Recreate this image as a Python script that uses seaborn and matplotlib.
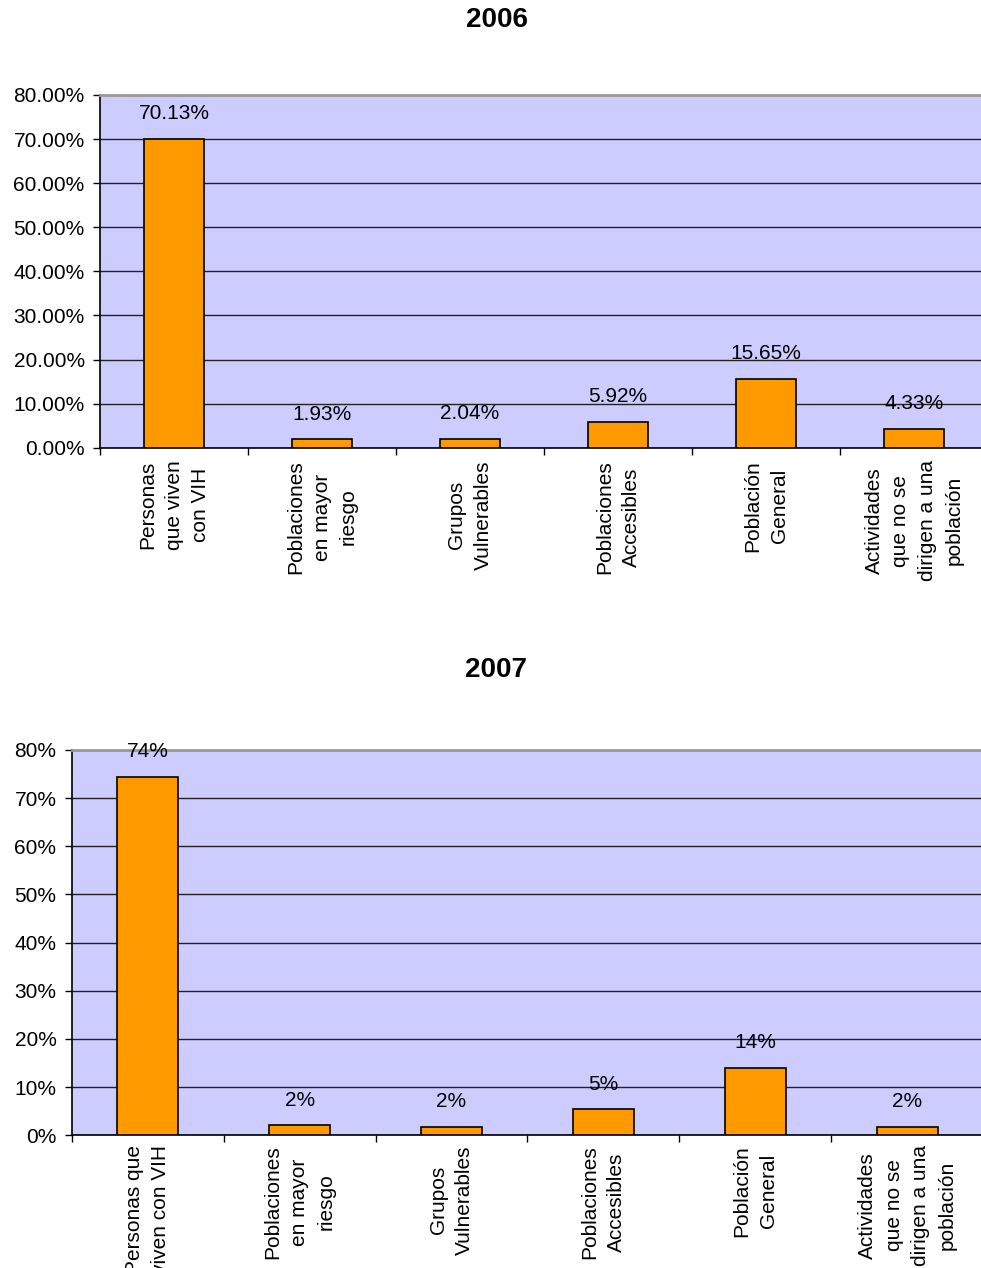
import matplotlib
matplotlib.use("Agg")
import matplotlib.pyplot as plt
import seaborn as sns
import numpy as np
import pandas as pd
from matplotlib.ticker import FuncFormatter, FixedLocator

sns.set_theme(style="white")
plt.rcParams['font.family'] = ['Liberation Sans', 'DejaVu Sans']
plt.rcParams['text.color'] = 'black'
plt.rcParams['xtick.color'] = 'black'
plt.rcParams['ytick.color'] = 'black'
plt.rcParams['xtick.labelcolor'] = 'black'
plt.rcParams['ytick.labelcolor'] = 'black'

# ---- data ----
categories = ["Personas que viven con VIH", "Poblaciones en mayor riesgo",
              "Grupos Vulnerables", "Poblaciones Accesibles",
              "Población General", "Actividades que no se dirigen a una población"]
labels_2006 = ["Personas\nque viven\ncon VIH", "Poblaciones\nen mayor\nriesgo",
               "Grupos\nVulnerables", "Poblaciones\nAccesibles",
               "Población\nGeneral", "Actividades\nque no se\ndirigen a una\npoblación"]
labels_2007 = ["Personas que\nviven con VIH", "Poblaciones\nen mayor\nriesgo",
               "Grupos\nVulnerables", "Poblaciones\nAccesibles",
               "Población\nGeneral", "Actividades\nque no se\ndirigen a una\npoblación"]
values_2006 = [70.13, 1.93, 2.04, 5.92, 15.65, 4.33]
values_2007 = [74.4, 2.1, 1.8, 5.4, 14.0, 1.8]
yticks = [0, 10, 20, 30, 40, 50, 60, 70, 80]

BG = "#CCCCFF"
BAR = "#FF9900"
FS = 15

W, H = 981, 1268
fig = plt.figure(figsize=(W / 100, H / 100), dpi=100)
fig.patch.set_facecolor("white")


def px_axes(left, top, right, bottom):
    return fig.add_axes([left / W, 1 - bottom / H, (right - left) / W, (bottom - top) / H])


def draw(ax, values, ticklabels, fmt_tick, fmt_bar, pad_lab):
    df = pd.DataFrame({"cat": categories, "val": values})
    sns.barplot(data=df, x="cat", y="val", order=categories, color=BAR, saturation=1,
                edgecolor="black", linewidth=1.2, width=0.4, ax=ax, zorder=3)
    ax.set_facecolor(BG)
    ax.set_ylim(0, 80)
    ax.set_xlim(-0.5, len(categories) - 0.5)
    ax.set_yticks(yticks)
    ax.yaxis.set_major_formatter(FuncFormatter(lambda v, p: fmt_tick.format(v)))
    ax.grid(axis="y", color="#222222", linewidth=1.0, zorder=1)
    ax.set_axisbelow(True)
    ax.set_xlabel("")
    ax.set_ylabel("")
    ax.set_xticks(range(len(categories)))
    ax.set_xticklabels(ticklabels, rotation=90, ha="center", va="top",
                       multialignment="center", linespacing=1.5, fontsize=FS,
                       color="black")
    ax.tick_params(axis="x", which="major", length=0, pad=pad_lab)
    ax.xaxis.set_minor_locator(FixedLocator(np.arange(-0.5, len(categories), 1.0)))
    ax.tick_params(axis="x", which="minor", length=5, width=1, color="black",
                   direction="out", bottom=True)
    ax.tick_params(axis="y", length=5, width=1, color="black", direction="out",
                   left=True, pad=6, labelsize=FS, labelcolor="black")
    for s in ["left", "bottom"]:
        ax.spines[s].set_color("black")
        ax.spines[s].set_linewidth(1.2)
    ax.spines["top"].set_color("#999999")
    ax.spines["top"].set_linewidth(2)
    ax.spines["right"].set_visible(False)
    for i, v in enumerate(values):
        ax.annotate(fmt_bar.format(v), xy=(i, v), xytext=(0, 25), textcoords="offset pixels",
                    ha="center", va="center", fontsize=FS, color="black", zorder=5)


ax1 = px_axes(100, 95, 988, 447.7)
draw(ax1, values_2006, labels_2006, "{:.2f}%", "{:.2f}%", 9)
ax2 = px_axes(71.7, 750, 983.3, 1135.3)
draw(ax2, values_2007, labels_2007, "{:.0f}%", "{:.0f}%", 7)

fig.text(497 / W, 1 - 20 / H, "2006", ha="center", va="center", fontsize=20,
         fontweight="bold", color="black")
fig.text(496 / W, 1 - 670 / H, "2007", ha="center", va="center", fontsize=20,
         fontweight="bold", color="black")

fig.savefig("out.png", dpi=100, facecolor="white")
